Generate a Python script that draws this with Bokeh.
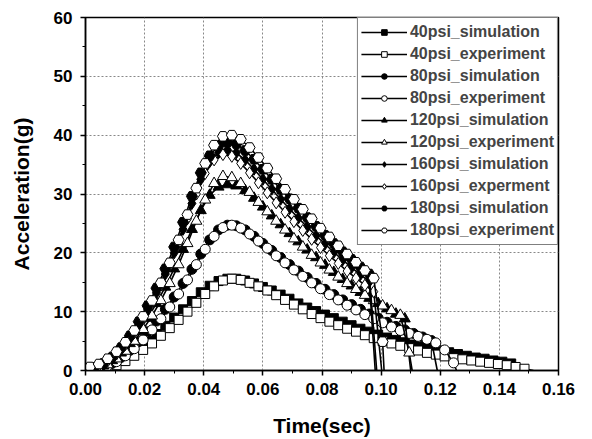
from bokeh.plotting import figure
from bokeh.embed import file_html
from bokeh.resources import INLINE
from bokeh.models import Range1d, SingleIntervalTicker, NumeralTickFormatter, Legend, LegendItem

# ---- data ----
T_SIM = [0.003, 0.006, 0.009, 0.012, 0.015, 0.018, 0.021, 0.024, 0.027, 0.030,
         0.033, 0.036, 0.039, 0.042, 0.045, 0.048, 0.051, 0.054, 0.057, 0.060,
         0.063, 0.066, 0.069, 0.072, 0.075, 0.078, 0.081, 0.084, 0.087, 0.090,
         0.093, 0.096, 0.099, 0.102, 0.105, 0.108, 0.111, 0.114, 0.117, 0.120,
         0.123, 0.126, 0.129, 0.132, 0.135, 0.138, 0.141, 0.144]
T_EXP = [0.0015, 0.0045, 0.0075, 0.0105, 0.0135, 0.0165, 0.0195, 0.0225, 0.0255, 0.0285,
         0.0315, 0.0345, 0.0375, 0.0405, 0.0435, 0.0465, 0.0495, 0.0525, 0.0555, 0.0585,
         0.0615, 0.0645, 0.0675, 0.0705, 0.0735, 0.0765, 0.0795, 0.0825, 0.0855, 0.0885,
         0.0915, 0.0945, 0.0975, 0.1005, 0.1035, 0.1065, 0.1095, 0.1125, 0.1155, 0.1185,
         0.1215, 0.1245, 0.1275, 0.1305, 0.1335, 0.1365, 0.1395, 0.1425, 0.1455, 0.1485]

sim40 = [0.1, 0.4, 1.0, 1.8, 2.7, 3.8, 5.0, 6.2, 7.6, 9.0, 10.4, 11.8, 13.3, 14.4, 15.2, 15.6,
         15.6, 15.3, 14.8, 14.2, 13.6, 12.9, 12.2, 11.4, 10.7, 10.1, 9.5, 8.9, 8.3, 7.7, 7.1,
         6.6, 6.1, 5.6, 5.2, 4.8, 4.4, 4.0, 3.7, 3.4, 3.1, 2.8, 2.5, 2.2, 2.0, 1.7, 1.5, 1.2]
exp40 = [0.0, 0.1, 0.4, 0.9, 1.6, 2.5, 3.5, 4.6, 5.9, 7.2, 8.6, 10.0, 11.5, 13.0, 14.3, 15.3,
         15.6, 15.4, 14.9, 14.3, 13.6, 12.8, 12.0, 11.2, 10.4, 9.6, 8.9, 8.3, 7.7, 7.1, 6.6,
         6.0, 5.5, 5.0, 4.6, 4.2, 3.8, 3.4, 3.0, 2.7, 2.4, 2.1, 1.9, 1.7, 1.5, 1.3, 1.1, 0.9,
         0.6, 0.3]
sim80 = [0.2, 0.6, 1.2, 2.2, 3.4, 4.9, 6.6, 8.4, 10.4, 12.5, 14.8, 17.2, 19.8, 22.2, 23.9, 24.7,
         24.6, 23.9, 22.8, 21.6, 20.4, 19.2, 18.0, 16.9, 15.8, 14.8, 13.8, 12.9, 12.0, 11.2,
         10.4, 9.6, 8.9, 8.2, 7.5, 6.9, 6.3, 5.7, 5.1]
exp80 = [0.1, 0.3, 0.8, 1.5, 2.5, 3.7, 5.2, 6.9, 8.8, 10.8, 13.0, 15.4, 18.0, 20.6, 22.8, 24.3,
         24.7, 24.2, 23.2, 22.0, 20.8, 19.5, 18.3, 17.1, 16.0, 14.9, 13.9, 12.9, 12.0, 11.1,
         10.3, 9.5, 8.8, 8.1, 7.4, 6.8, 6.3, 5.8, 5.3, 4.7, 3.5, 1.3]
sim120 = [0.3, 0.8, 1.7, 3.0, 4.6, 6.6, 8.9, 11.4, 14.2, 17.3, 20.6, 24.0, 27.2, 29.8, 31.2, 31.6,
          31.4, 30.6, 29.3, 27.8, 26.3, 24.8, 23.3, 21.9, 20.5, 19.2, 17.9, 16.7, 15.5, 14.4,
          13.3, 12.3, 11.4, 10.5, 9.6, 8.8]
exp120 = [0.1, 0.4, 1.0, 2.0, 3.3, 5.0, 7.0, 9.3, 11.9, 14.8, 18.0, 21.6, 25.4, 29.0, 31.8, 33.0,
          32.8, 31.8, 30.3, 28.6, 27.0, 25.4, 23.9, 22.4, 21.0, 19.6, 18.3, 17.1, 15.9, 14.8,
          13.8, 12.8, 11.9, 11.0, 10.2, 9.4, 3.0]
sim160 = [0.4, 1.0, 2.0, 3.5, 5.4, 7.7, 10.3, 13.2, 16.4, 20.0, 24.0, 28.4, 32.5, 35.5, 37.0, 37.5,
          37.0, 35.8, 34.2, 32.5, 30.8, 29.1, 27.5, 25.9, 24.4, 22.9, 21.5, 20.1, 18.8, 17.5,
          16.3, 15.1]
exp160 = [0.3, 0.8, 1.6, 2.8, 4.4, 6.4, 8.8, 11.5, 14.5, 17.8, 21.6, 25.8, 30.0, 33.5, 35.8, 36.7,
          36.4, 35.2, 33.6, 31.9, 30.2, 28.5, 26.9, 25.3, 23.8, 22.3, 20.9, 19.5, 18.2, 16.9,
          15.7, 14.5, 13.4]
sim180 = [0.5, 1.2, 2.3, 3.9, 5.9, 8.3, 11.0, 14.0, 17.3, 21.0, 25.2, 29.6, 33.6, 36.5, 38.2, 38.8,
          38.5, 37.4, 35.9, 34.2, 32.5, 30.8, 29.2, 27.6, 26.0, 24.5, 23.0, 21.6, 20.2, 18.9,
          17.6, 16.4]
exp180 = [0.6, 1.1, 2.0, 3.2, 4.8, 6.8, 9.2, 11.9, 14.9, 18.3, 22.2, 26.5, 31.0, 35.2, 38.3, 39.8,
          40.0, 39.3, 37.9, 36.2, 34.4, 32.6, 30.8, 29.1, 27.4, 25.8, 24.2, 22.7, 21.2, 19.8,
          18.4, 17.0, 15.7, 4.9]

# time at which each curve falls back to zero
END = {"sim40": 0.146, "exp40": 0.1515, "sim80": 0.119, "exp80": 0.1255,
       "sim120": 0.110, "exp120": 0.1105, "sim160": 0.098, "exp160": 0.1002,
       "sim180": 0.0985, "exp180": 0.1010}

LABELS = ["40psi_simulation", "40psi_experiment", "80psi_simulation", "80psi_experiment",
          "120psi_simulation", "120psi_experiment", "160psi_simulation", "160psi_experment",
          "180psi_simulation", "180psi_experiment"]

series = [
    ("sim40", T_SIM, sim40, "square", True),
    ("exp40", T_EXP, exp40, "square", False),
    ("sim80", T_SIM, sim80, "circle", True),
    ("exp80", T_EXP, exp80, "circle", False),
    ("sim120", T_SIM, sim120, "triangle", True),
    ("exp120", T_EXP, exp120, "triangle", False),
    ("sim160", T_SIM, sim160, "diamond", True),
    ("exp160", T_EXP, exp160, "diamond", False),
    ("sim180", T_SIM, sim180, "hex", True),
    ("exp180", T_EXP, exp180, "hex", False),
]

FONT = "Liberation Sans"
NAN = float("nan")

p = figure(width=592, height=439, output_backend="svg", toolbar_location=None,
           x_range=Range1d(0, 0.16), y_range=Range1d(0, 60),
           min_border_left=85, min_border_right=34, min_border_top=17, min_border_bottom=68)
p.background_fill_color = "white"
p.border_fill_color = "white"
p.outline_line_color = "black"
p.outline_line_width = 1.5

items = []
for (key, t, v, marker, filled), label in zip(series, LABELS):
    n = len(v)
    xs = list(t[:n]) + [END[key]]
    ys = list(v) + [0.0]
    fill = "black" if filled else "white"
    p.line(xs, ys, line_color="black", line_width=1.6)
    size = {"square": 9, "circle": 10, "triangle": 11, "diamond": 12, "hex": 11}[marker]
    p.scatter(list(t[:n]), list(v), marker=marker, size=size,
              line_color="black", line_width=1, fill_color=fill)
    # legend-only glyphs (no data drawn in the plot)
    lg_line = p.line([NAN], [NAN], line_color="black", line_width=1.6)
    lg_mark = p.scatter([NAN], [NAN], marker=marker, size=7,
                        line_color="black", line_width=1, fill_color=fill)
    items.append(LegendItem(label=label, renderers=[lg_line, lg_mark]))

legend = Legend(items=items, location="top_right", margin=0, padding=3, spacing=0,
                glyph_width=46, glyph_height=14, label_height=22, label_standoff=3,
                label_text_font=FONT, label_text_font_style="bold", label_text_font_size="16px",
                border_line_color="black", border_line_width=1,
                background_fill_color="white", background_fill_alpha=1.0)
p.add_layout(legend, "center")

p.xaxis.ticker = SingleIntervalTicker(interval=0.02, num_minor_ticks=2)
p.yaxis.ticker = SingleIntervalTicker(interval=10, num_minor_ticks=2)
p.xaxis.formatter = NumeralTickFormatter(format="0.00")

for ax in (p.xaxis, p.yaxis):
    ax.axis_line_color = "black"
    ax.axis_line_width = 1.5
    ax.major_tick_line_color = "black"
    ax.major_tick_line_width = 1.5
    ax.minor_tick_line_color = "black"
    ax.minor_tick_line_width = 1
    ax.major_tick_out = 5
    ax.major_tick_in = 0
    ax.minor_tick_out = 3
    ax.minor_tick_in = 0
    ax.major_label_text_font = FONT
    ax.major_label_text_font_style = "bold"
    ax.major_label_text_font_size = "17px"
    ax.major_label_text_color = "black"
    ax.axis_label_text_font = FONT
    ax.axis_label_text_font_style = "bold"
    ax.axis_label_text_font_size = "21px"
    ax.axis_label_text_color = "black"

p.xaxis.axis_label = "Time(sec)"
p.yaxis.axis_label = "Acceleration(g)"
p.xaxis.major_label_standoff = 7
p.yaxis.major_label_standoff = 8
p.xaxis.axis_label_standoff = 16
p.yaxis.axis_label_standoff = 18

p.grid.grid_line_color = "#888888"
p.grid.grid_line_dash = "2 2"
p.grid.grid_line_width = 1

open("out.html", "w").write(file_html(p, INLINE))
